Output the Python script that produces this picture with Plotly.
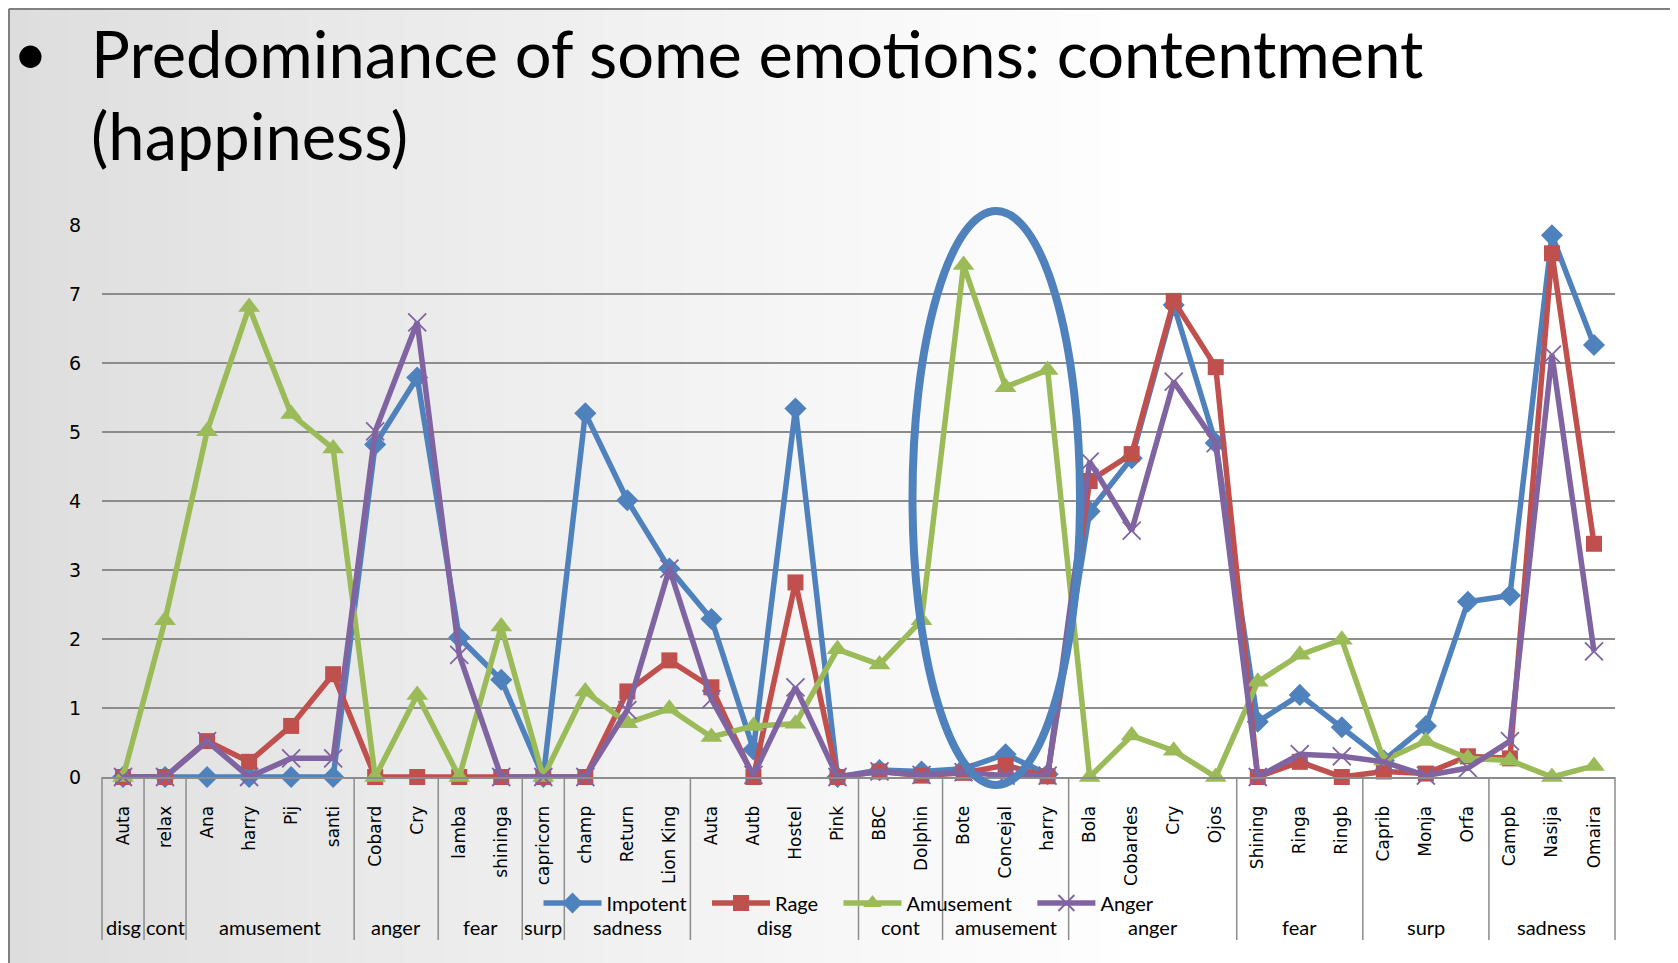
import plotly.graph_objects as go

# ---------------- data ----------------
categories = ["Auta", "relax", "Ana", "harry", "Pij", "santi", "Cobard", "Cry", "lamba", "shininga",
              "capricorn", "champ", "Return", "Lion King", "Auta", "Autb", "Hostel", "Pink", "BBC",
              "Dolphin", "Bote", "Concejal", "harry", "Bola", "Cobardes", "Cry", "Ojos", "Shining",
              "Ringa", "Ringb", "Caprib", "Monja", "Orfa", "Campb", "Nasija", "Omaira"]
groups = ["disg", "cont", "amusement", "anger", "fear", "surp", "sadness",
          "disg", "cont", "amusement", "anger", "fear", "surp", "sadness"]
group_sizes = [1, 1, 4, 2, 2, 1, 3, 4, 2, 3, 4, 3, 3, 3]

impotent = [0, 0, 0, 0, 0, 0, 4.82, 5.79, 2.02, 1.41, 0, 5.27, 4.01, 3.02, 2.29, 0.4, 5.34, 0,
            0.1, 0.08, 0.12, 0.33, 0.04, 3.85, 4.62, 6.84, 4.84, 0.8, 1.19, 0.72, 0.24, 0.74,
            2.54, 2.63, 7.85, 6.26]
rage = [0, 0, 0.52, 0.22, 0.74, 1.49, 0, 0, 0, 0, 0, 0, 1.24, 1.69, 1.3, 0, 2.82, 0,
        0.08, 0.02, 0.06, 0.17, 0.01, 4.29, 4.68, 6.9, 5.94, 0, 0.22, 0, 0.08, 0.05,
        0.3, 0.27, 7.59, 3.38]
amusement = [0, 2.27, 5.01, 6.81, 5.26, 4.76, 0, 1.19, 0, 2.18, 0, 1.24, 0.78, 0.99, 0.58, 0.74,
             0.77, 1.85, 1.63, 2.27, 7.42, 5.65, 5.9, 0, 0.6, 0.38, 0, 1.38, 1.77, 1.99, 0.24,
             0.52, 0.27, 0.24, 0, 0.16]
anger = [0, 0, 0.52, 0, 0.27, 0.27, 5.01, 6.59, 1.77, 0, 0, 0, 0.97, 3.02, 1.13, 0.03, 1.3, 0,
         0.08, 0.03, 0.07, 0.02, 0.02, 4.57, 3.57, 5.73, 4.84, 0, 0.33, 0.3, 0.22, 0.02,
         0.13, 0.52, 6.12, 1.82]
y_ticks = [0, 1, 2, 3, 4, 5, 6, 7, 8]

# ---------------- geometry (page pixels; page body has an 8px margin) ----------------
OFF = 8
PW, PH = 1678, 963
W, H = PW - OFF, PH - OFF
L, R, T, B = 102, 1615, 225, 777


def px_x(x):
    return (x - L) / (R - L)


def px_y(y):
    return (B - y) / (B - T)


n = len(categories)
xs = list(range(n))

series = [
    ("Impotent", impotent, "#4F81BD", "diamond", 17),
    ("Rage", rage, "#C0504D", "square", 16),
    ("Amusement", amusement, "#9BBB59", "triangle-up", 19),
    ("Anger", anger, "#8064A2", "x-thin", 18),
]

PAD = "\u00a0\u00a0\u00a0"
fig = go.Figure()
for name, vals, col, sym, sz in series:
    fig.add_trace(go.Scatter(
        x=xs, y=vals, name=name + PAD, mode="lines+markers",
        line=dict(color=col, width=5.5),
        marker=dict(symbol=sym, size=sz, color=col,
                    line=dict(color=col, width=1.8 if sym == "x-thin" else 0)),
        cliponaxis=False,
    ))

shapes = []
# background gradient (slide look)
nstrips = 84
for i in range(nstrips):
    x0 = OFF + W * i / nstrips
    x1 = OFF + W * (i + 1) / nstrips + 1
    t = min(1.0, ((x0 + x1) / 2) / 1150.0)
    c = int(round(220 + 35 * t ** 0.85))
    shapes.append(dict(type="rect", xref="paper", yref="paper",
                       x0=px_x(x0), x1=px_x(x1), y0=px_y(PH), y1=px_y(OFF),
                       fillcolor=f"rgb({c},{c},{c})", line=dict(width=0), layer="below"))
# slide border
bc = "#808080"
shapes.append(dict(type="line", xref="paper", yref="paper", x0=px_x(OFF + 1), x1=px_x(OFF + 1),
                   y0=px_y(PH), y1=px_y(OFF + 1), line=dict(color=bc, width=2), layer="below"))
shapes.append(dict(type="line", xref="paper", yref="paper", x0=px_x(OFF + 1), x1=px_x(1677),
                   y0=px_y(OFF + 1), y1=px_y(OFF + 1), line=dict(color=bc, width=2), layer="below"))
shapes.append(dict(type="line", xref="paper", yref="paper", x0=px_x(1676.5), x1=px_x(1676.5),
                   y0=px_y(PH), y1=px_y(OFF + 1), line=dict(color=bc, width=2), layer="below"))

# group boundaries and labels
annotations = []
cw = 1.0 / n
start = 0
bounds = [0]
for g, s in zip(groups, group_sizes):
    mid = (start + s / 2.0) * cw
    annotations.append(dict(text=g, xref="paper", yref="paper", x=mid, y=px_y(927),
                            xanchor="center", yanchor="middle", showarrow=False,
                            font=dict(family="Lato", size=20, color="#000000")))
    start += s
    bounds.append(start)
for b in bounds:
    shapes.append(dict(type="line", xref="paper", yref="paper", x0=b * cw, x1=b * cw,
                       y0=0, y1=px_y(940), line=dict(color="#8c8c8c", width=1.5)))

# highlight ellipse
shapes.append(dict(type="circle", xref="paper", yref="paper",
                   x0=px_x(912.5), x1=px_x(1080), y0=px_y(785), y1=px_y(211),
                   line=dict(color="#4F81BD", width=8), layer="above"))

# title (bullet + two lines)
annotations.append(dict(text="•", xref="paper", yref="paper", x=px_x(30), y=px_y(52),
                        xanchor="center", yanchor="middle", showarrow=False,
                        font=dict(family="Lato", size=60, color="#000000")))
annotations.append(dict(text="Predominance of some emotions: contentment", xref="paper",
                        yref="paper", x=px_x(89), y=px_y(53), xanchor="left", yanchor="middle",
                        showarrow=False, font=dict(family="Lato", size=65, color="#000000")))
annotations.append(dict(text="(happiness)", xref="paper", yref="paper", x=px_x(89), y=px_y(135),
                        xanchor="left", yanchor="middle", showarrow=False,
                        font=dict(family="Lato", size=65, color="#000000")))

fig.update_layout(
    width=W, height=H,
    margin=dict(l=L - OFF, r=PW - R, t=T - OFF, b=PH - B, pad=0),
    paper_bgcolor="#ffffff", plot_bgcolor="rgba(0,0,0,0)",
    shapes=shapes, annotations=annotations,
    showlegend=True,
    legend=dict(orientation="h", x=px_x(856), y=px_y(903), xanchor="center", yanchor="middle",
                bgcolor="rgba(0,0,0,0)", font=dict(family="Lato", size=20, color="#000000"),
                itemwidth=58, traceorder="normal"),
    xaxis=dict(range=[-0.5, n - 0.5], tickmode="array", tickvals=xs, ticktext=categories,
               tickangle=-90, showgrid=False, zeroline=False, showline=True,
               linecolor="#8c8c8c", linewidth=2, ticks="", ticklabelstandoff=20,
               tickfont=dict(family="DejaVu Sans", size=17, color="#000000")),
    yaxis=dict(range=[0, 8], tickmode="array", tickvals=y_ticks, showgrid=True,
               gridcolor="#8c8c8c", gridwidth=2, zeroline=False, showline=False, ticks="",
               ticklabelstandoff=20,
               tickfont=dict(family="DejaVu Sans", size=19, color="#000000")),
)

fig.write_html("out.html")
